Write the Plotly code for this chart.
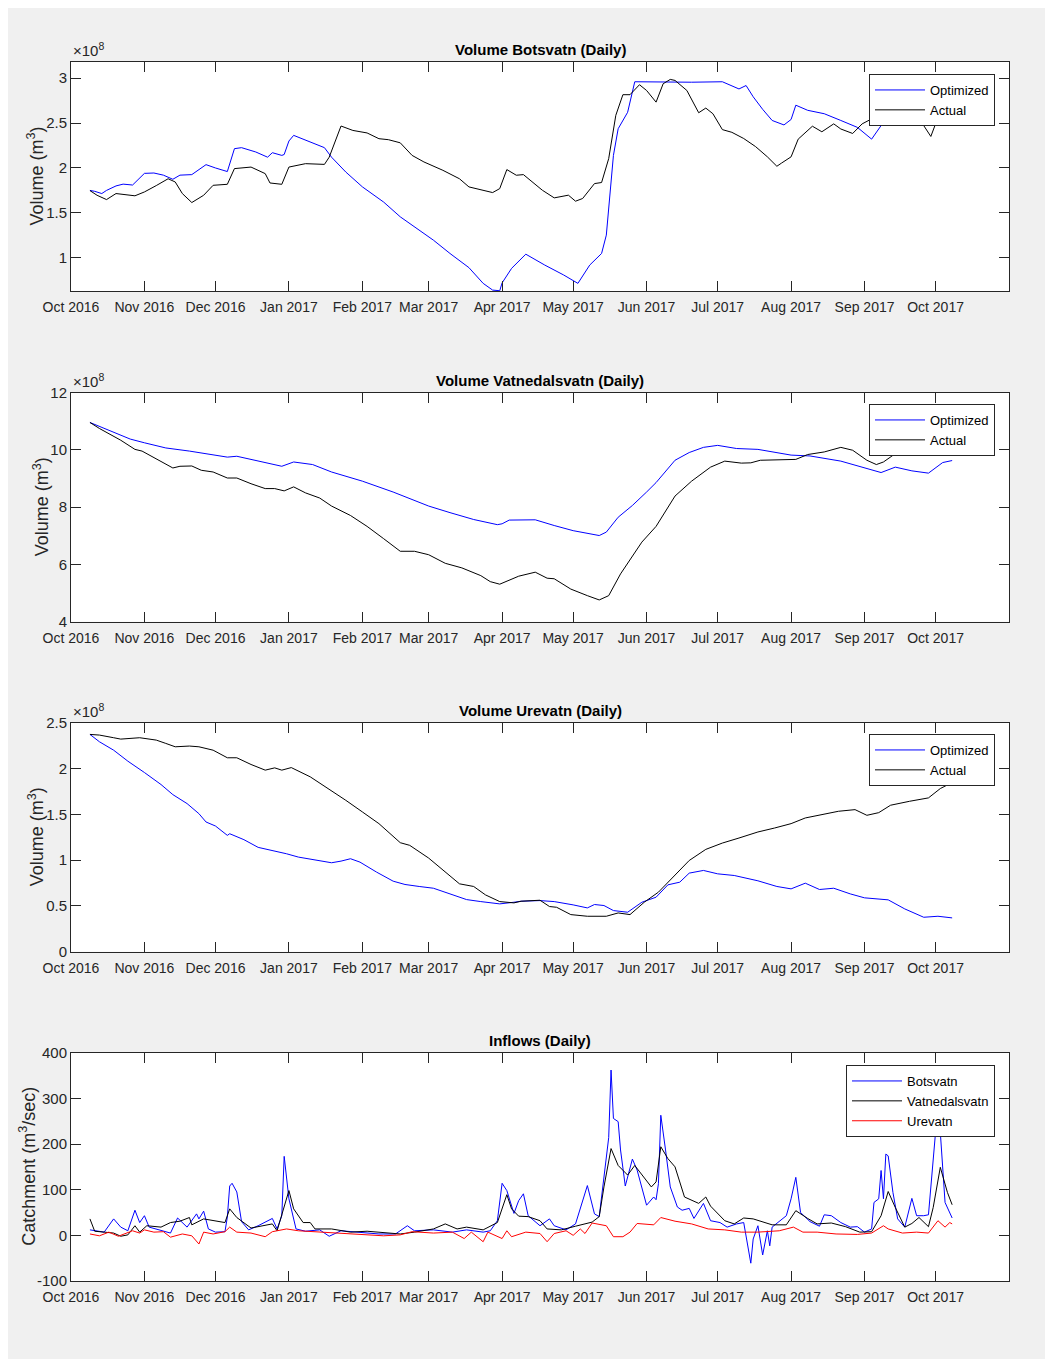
import plotly.graph_objects as go

# ---------------- tick labels ----------------
month_ticks = ["2016-10-01", "2016-11-01", "2016-12-01", "2017-01-01", "2017-02-01", "2017-03-01",
               "2017-04-01", "2017-05-01", "2017-06-01", "2017-07-01", "2017-08-01", "2017-09-01",
               "2017-10-01"]
month_labels = ["Oct 2016", "Nov 2016", "Dec 2016", "Jan 2017", "Feb 2017", "Mar 2017", "Apr 2017",
                "May 2017", "Jun 2017", "Jul 2017", "Aug 2017", "Sep 2017", "Oct 2017"]
inflow_ticks = [-100, 0, 100, 200, 300, 400]
inflow_tick_labels = ["-100", "0", "100", "200", "300", "400"]

# ---------------- Volume Botsvatn (x 1e8 m3) ----------------
bots_opt_dates = ["2016-10-09", "2016-10-11", "2016-10-14", "2016-10-16", "2016-10-20", "2016-10-23",
                  "2016-10-27", "2016-11-01", "2016-11-05", "2016-11-09", "2016-11-13", "2016-11-16",
                  "2016-11-21", "2016-11-27", "2016-12-01", "2016-12-06", "2016-12-09", "2016-12-12",
                  "2016-12-18", "2016-12-23", "2016-12-25", "2016-12-29", "2016-12-30", "2017-01-01",
                  "2017-01-03", "2017-01-08", "2017-01-16", "2017-01-19", "2017-01-25", "2017-02-01",
                  "2017-02-10", "2017-02-17", "2017-02-23", "2017-03-03", "2017-03-10", "2017-03-18",
                  "2017-03-24", "2017-03-28", "2017-03-31", "2017-04-01", "2017-04-05", "2017-04-11",
                  "2017-04-19", "2017-04-27", "2017-05-03", "2017-05-08", "2017-05-13", "2017-05-15",
                  "2017-05-18", "2017-05-20", "2017-05-24", "2017-05-27", "2017-06-20", "2017-07-03",
                  "2017-07-10", "2017-07-13", "2017-07-16", "2017-07-20", "2017-07-24", "2017-07-29",
                  "2017-08-01", "2017-08-03", "2017-08-08", "2017-08-15", "2017-08-22", "2017-08-29",
                  "2017-09-04", "2017-09-08", "2017-09-12", "2017-09-16", "2017-09-20", "2017-10-08"]
bots_opt_vol = [1.75, 1.74, 1.715, 1.75, 1.80, 1.82,
                1.81, 1.94, 1.944, 1.92, 1.874, 1.92,
                1.926, 2.037, 2.00, 1.96, 2.215, 2.226,
                2.178, 2.12, 2.17, 2.14, 2.15, 2.30,
                2.363, 2.307, 2.226, 2.12, 1.955, 1.79,
                1.62, 1.456, 1.344, 1.196, 1.048, 0.89,
                0.715, 0.64, 0.633, 0.72, 0.882, 1.04,
                0.919, 0.808, 0.715, 0.919, 1.048, 1.252,
                2.14, 2.437, 2.62, 2.96, 2.955, 2.96,
                2.88, 2.918, 2.793, 2.653, 2.529, 2.479,
                2.54, 2.699, 2.642, 2.604, 2.529, 2.452,
                2.321, 2.472, 2.70, 2.90, 2.96, 2.96]

bots_act_dates = ["2016-10-09", "2016-10-12", "2016-10-16", "2016-10-20", "2016-10-28", "2016-11-01",
                  "2016-11-06", "2016-11-11", "2016-11-14", "2016-11-17", "2016-11-21", "2016-11-26",
                  "2016-11-30", "2016-12-06", "2016-12-09", "2016-12-16", "2016-12-22", "2016-12-24",
                  "2016-12-29", "2017-01-01", "2017-01-08", "2017-01-16", "2017-01-18", "2017-01-23",
                  "2017-01-28", "2017-02-03", "2017-02-08", "2017-02-12", "2017-02-17", "2017-02-22",
                  "2017-02-27", "2017-03-07", "2017-03-14", "2017-03-18", "2017-03-28", "2017-03-31",
                  "2017-04-03", "2017-04-07", "2017-04-10", "2017-04-18", "2017-04-23", "2017-04-29",
                  "2017-05-02", "2017-05-05", "2017-05-10", "2017-05-13", "2017-05-16", "2017-05-19",
                  "2017-05-22", "2017-05-25", "2017-05-29", "2017-06-01", "2017-06-05", "2017-06-08",
                  "2017-06-11", "2017-06-13", "2017-06-18", "2017-06-23", "2017-06-26", "2017-06-29",
                  "2017-07-03", "2017-07-07", "2017-07-12", "2017-07-17", "2017-07-22", "2017-07-26",
                  "2017-07-28", "2017-08-01", "2017-08-04", "2017-08-10", "2017-08-14", "2017-08-19",
                  "2017-08-22", "2017-08-27", "2017-08-31", "2017-09-05", "2017-09-12", "2017-09-20",
                  "2017-09-26", "2017-09-29", "2017-10-01", "2017-10-04", "2017-10-08"]
bots_act_vol = [1.748, 1.696, 1.648, 1.715, 1.69, 1.733,
                1.804, 1.88, 1.844, 1.715, 1.615, 1.696,
                1.807, 1.818, 1.993, 2.01, 1.937, 1.833,
                1.818, 2.01, 2.048, 2.04, 2.12, 2.467,
                2.418, 2.39, 2.326, 2.315, 2.28, 2.14,
                2.067, 1.974, 1.88, 1.789, 1.726, 1.77,
                1.982, 1.919, 1.926, 1.752, 1.667, 1.697,
                1.63, 1.66, 1.826, 1.838, 2.104, 2.586,
                2.816, 2.816, 2.927, 2.863, 2.733, 2.938,
                2.986, 2.975, 2.863, 2.615, 2.667, 2.604,
                2.427, 2.397, 2.328, 2.238, 2.124, 2.019,
                2.055, 2.124, 2.321, 2.465, 2.403, 2.491,
                2.434, 2.384, 2.491, 2.56, 2.60, 2.58,
                2.472, 2.351, 2.491, 2.60, 2.62]

# ---------------- Volume Vatnedalsvatn (x 1e8 m3) ----------------
vatn_opt_dates = ["2016-10-09", "2016-10-18", "2016-10-26", "2016-11-01", "2016-11-10", "2016-11-20",
                  "2016-11-30", "2016-12-06", "2016-12-10", "2016-12-19", "2016-12-25", "2016-12-29",
                  "2017-01-03", "2017-01-11", "2017-01-19", "2017-02-01", "2017-02-14", "2017-03-01",
                  "2017-03-10", "2017-03-20", "2017-03-30", "2017-04-01", "2017-04-04", "2017-04-09",
                  "2017-04-15", "2017-04-23", "2017-05-01", "2017-05-12", "2017-05-15", "2017-05-20",
                  "2017-05-26", "2017-06-01", "2017-06-05", "2017-06-13", "2017-06-19", "2017-06-25",
                  "2017-07-01", "2017-07-09", "2017-07-18", "2017-08-01", "2017-08-09", "2017-08-22",
                  "2017-08-31", "2017-09-08", "2017-09-14", "2017-09-21", "2017-09-28", "2017-10-04",
                  "2017-10-08"]
vatn_opt_vol = [10.96, 10.66, 10.38, 10.25, 10.07, 9.96,
                9.84, 9.75, 9.78, 9.62, 9.50, 9.43,
                9.58, 9.49, 9.23, 8.91, 8.53, 8.04,
                7.81, 7.57, 7.39, 7.42, 7.55, 7.56,
                7.56, 7.36, 7.18, 7.01, 7.13, 7.65,
                8.06, 8.53, 8.86, 9.64, 9.91, 10.09,
                10.16, 10.05, 10.02, 9.82, 9.79, 9.61,
                9.41, 9.21, 9.40, 9.27, 9.19, 9.56,
                9.63]

vatn_act_dates = ["2016-10-09", "2016-10-13", "2016-10-22", "2016-10-28", "2016-10-31", "2016-11-06",
                  "2016-11-13", "2016-11-16", "2016-11-21", "2016-11-25", "2016-11-30", "2016-12-06",
                  "2016-12-10", "2016-12-16", "2016-12-22", "2016-12-26", "2016-12-30", "2017-01-03",
                  "2017-01-08", "2017-01-14", "2017-01-19", "2017-01-27", "2017-02-03", "2017-02-10",
                  "2017-02-17", "2017-02-23", "2017-03-01", "2017-03-08", "2017-03-15", "2017-03-23",
                  "2017-03-27", "2017-03-31", "2017-04-04", "2017-04-08", "2017-04-15", "2017-04-20",
                  "2017-04-23", "2017-04-30", "2017-05-07", "2017-05-12", "2017-05-16", "2017-05-21",
                  "2017-05-30", "2017-06-05", "2017-06-13", "2017-06-20", "2017-06-28", "2017-07-04",
                  "2017-07-11", "2017-07-15", "2017-07-19", "2017-07-26", "2017-08-03", "2017-08-08",
                  "2017-08-15", "2017-08-22", "2017-08-27", "2017-09-02", "2017-09-06", "2017-09-09",
                  "2017-09-14", "2017-09-23", "2017-09-30", "2017-10-08"]
vatn_act_vol = [10.96, 10.75, 10.34, 10.02, 9.96, 9.68,
                9.37, 9.43, 9.44, 9.29, 9.23, 9.02,
                9.02, 8.82, 8.65, 8.65, 8.57, 8.71,
                8.50, 8.32, 8.04, 7.71, 7.33, 6.90,
                6.46, 6.46, 6.34, 6.04, 5.88, 5.61,
                5.40, 5.31, 5.44, 5.59, 5.73, 5.52,
                5.50, 5.14, 4.91, 4.76, 4.91, 5.67,
                6.78, 7.33, 8.39, 8.91, 9.40, 9.61,
                9.54, 9.55, 9.64, 9.66, 9.67, 9.84,
                9.93, 10.09, 9.99, 9.64, 9.49, 9.58,
                9.87, 9.87, 9.92, 10.0]

# ---------------- Volume Urevatn (x 1e8 m3) ----------------
ure_opt_dates = ["2016-10-09", "2016-10-13", "2016-10-19", "2016-10-25", "2016-11-01", "2016-11-08",
                 "2016-11-13", "2016-11-19", "2016-11-24", "2016-11-27", "2016-12-01", "2016-12-06",
                 "2016-12-07", "2016-12-13", "2016-12-19", "2016-12-25", "2016-12-31", "2017-01-05",
                 "2017-01-12", "2017-01-19", "2017-01-23", "2017-01-27", "2017-01-31", "2017-02-07",
                 "2017-02-14", "2017-02-19", "2017-02-25", "2017-03-03", "2017-03-10", "2017-03-17",
                 "2017-03-23", "2017-03-31", "2017-04-06", "2017-04-09", "2017-04-17", "2017-04-23",
                 "2017-05-01", "2017-05-07", "2017-05-10", "2017-05-14", "2017-05-18", "2017-05-24",
                 "2017-05-30", "2017-06-05", "2017-06-10", "2017-06-15", "2017-06-19", "2017-06-25",
                 "2017-07-01", "2017-07-08", "2017-07-18", "2017-07-26", "2017-08-01", "2017-08-07",
                 "2017-08-13", "2017-08-19", "2017-08-26", "2017-09-01", "2017-09-11", "2017-09-18",
                 "2017-09-26", "2017-10-02", "2017-10-08"]
ure_opt_vol = [2.372, 2.292, 2.20, 2.08, 1.956, 1.825,
               1.715, 1.617, 1.507, 1.416, 1.372, 1.27,
               1.288, 1.223, 1.139, 1.106, 1.069, 1.033,
               1.004, 0.971, 0.989, 1.015, 0.978, 0.869,
               0.77, 0.734, 0.712, 0.693, 0.631, 0.569,
               0.547, 0.522, 0.54, 0.551, 0.558, 0.547,
               0.511, 0.478, 0.515, 0.504, 0.449, 0.431,
               0.54, 0.595, 0.73, 0.759, 0.858, 0.887,
               0.85, 0.832, 0.774, 0.712, 0.686, 0.748,
               0.679, 0.693, 0.631, 0.588, 0.566, 0.467,
               0.376, 0.387, 0.369]

ure_act_dates = ["2016-10-09", "2016-10-13", "2016-10-19", "2016-10-22", "2016-10-30", "2016-11-06",
                 "2016-11-10", "2016-11-14", "2016-11-20", "2016-11-24", "2016-11-30", "2016-12-06",
                 "2016-12-10", "2016-12-16", "2016-12-22", "2016-12-26", "2016-12-29", "2017-01-02",
                 "2017-01-10", "2017-01-16", "2017-01-25", "2017-02-01", "2017-02-08", "2017-02-17",
                 "2017-02-21", "2017-03-01", "2017-03-08", "2017-03-14", "2017-03-20", "2017-03-25",
                 "2017-03-31", "2017-04-06", "2017-04-09", "2017-04-17", "2017-04-21", "2017-04-24",
                 "2017-04-30", "2017-05-07", "2017-05-15", "2017-05-20", "2017-05-25", "2017-05-31",
                 "2017-06-06", "2017-06-12", "2017-06-19", "2017-06-26", "2017-07-03", "2017-07-10",
                 "2017-07-18", "2017-07-25", "2017-08-01", "2017-08-07", "2017-08-15", "2017-08-21",
                 "2017-08-28", "2017-09-02", "2017-09-07", "2017-09-12", "2017-09-20", "2017-09-28",
                 "2017-10-03", "2017-10-08"]
ure_act_vol = [2.372, 2.365, 2.336, 2.321, 2.336, 2.31,
               2.274, 2.237, 2.245, 2.237, 2.20, 2.117,
               2.117, 2.044, 1.982, 2.007, 1.982, 2.01,
               1.909, 1.81, 1.653, 1.526, 1.398, 1.19,
               1.161, 1.022, 0.869, 0.741, 0.712, 0.62,
               0.547, 0.533, 0.551, 0.562, 0.493, 0.485,
               0.405, 0.387, 0.387, 0.423, 0.405, 0.54,
               0.65, 0.814, 0.996, 1.117, 1.186, 1.241,
               1.307, 1.35, 1.398, 1.46, 1.50, 1.533,
               1.551, 1.489, 1.518, 1.599, 1.642, 1.679,
               1.781, 1.847]

# ---------------- Inflows (m3/sec) ----------------
inf_bots_dates = ["2016-10-09", "2016-10-12", "2016-10-15", "2016-10-19", "2016-10-22", "2016-10-25",
                  "2016-10-28", "2016-10-30", "2016-11-01", "2016-11-03", "2016-11-08", "2016-11-12",
                  "2016-11-15", "2016-11-19", "2016-11-23", "2016-11-24", "2016-11-26", "2016-11-28",
                  "2016-12-01", "2016-12-05", "2016-12-06", "2016-12-07", "2016-12-08", "2016-12-10",
                  "2016-12-12", "2016-12-15", "2016-12-19", "2016-12-25", "2016-12-27", "2016-12-29",
                  "2016-12-30", "2017-01-01", "2017-01-04", "2017-01-08", "2017-01-14", "2017-01-18",
                  "2017-01-23", "2017-01-31", "2017-02-08", "2017-02-15", "2017-02-20", "2017-02-23",
                  "2017-03-03", "2017-03-11", "2017-03-17", "2017-03-24", "2017-03-27", "2017-03-30",
                  "2017-04-01", "2017-04-03", "2017-04-06", "2017-04-08", "2017-04-10", "2017-04-12",
                  "2017-04-17", "2017-04-21", "2017-04-23", "2017-04-28", "2017-05-02", "2017-05-07",
                  "2017-05-10", "2017-05-12", "2017-05-14", "2017-05-16", "2017-05-17", "2017-05-18",
                  "2017-05-20", "2017-05-21", "2017-05-23", "2017-05-26", "2017-05-28", "2017-06-01",
                  "2017-06-04", "2017-06-05", "2017-06-06", "2017-06-07", "2017-06-09", "2017-06-11",
                  "2017-06-14", "2017-06-16", "2017-06-19", "2017-06-21", "2017-06-25", "2017-06-28",
                  "2017-07-02", "2017-07-05", "2017-07-09", "2017-07-12", "2017-07-15", "2017-07-16",
                  "2017-07-18", "2017-07-20", "2017-07-22", "2017-07-23", "2017-07-24", "2017-07-28",
                  "2017-07-30", "2017-08-01", "2017-08-03", "2017-08-05", "2017-08-09", "2017-08-13",
                  "2017-08-15", "2017-08-18", "2017-08-22", "2017-08-26", "2017-08-29", "2017-09-01",
                  "2017-09-04", "2017-09-05", "2017-09-07", "2017-09-08", "2017-09-09", "2017-09-10",
                  "2017-09-11", "2017-09-13", "2017-09-15", "2017-09-18", "2017-09-21", "2017-09-23",
                  "2017-09-26", "2017-09-28", "2017-10-01", "2017-10-02", "2017-10-03", "2017-10-05",
                  "2017-10-08"]
inf_bots = [12, 9, 7, 36, 18, 10,
            55, 28, 43, 18, 10, 5,
            38, 18, 47, 36, 53, 14,
            7, 8, 40, 108, 114, 95,
            30, 12, 21, 37, 14, 43,
            173, 80, 14, 9, 12, -2,
            10, 7, 3, 3, 21, 10,
            12, 7, 12, 7, 10, 32,
            114, 98, 48, 76, 91, 43,
            21, 36, 21, 12, 25, 109,
            47, 41, 127, 214, 362, 256,
            249, 187, 108, 167, 143, 66,
            84, 78, 113, 263, 187, 106,
            62, 55, 59, 37, 70, 32,
            28, 18, 25, 28, -61, -8,
            21, -43, 10, -23, 18, 36,
            43, 80, 127, 50, 30, 20,
            45, 43, 28, 18, 19, 7,
            14, 72, 80, 142, 80, 178,
            174, 94, 36, 18, 81, 43,
            43, 45, 226, 250, 226, 72,
            38]

inf_vatn_dates = ["2016-10-09", "2016-10-11", "2016-10-15", "2016-10-19", "2016-10-22", "2016-10-25",
                  "2016-10-28", "2016-10-30", "2016-11-02", "2016-11-08", "2016-11-12", "2016-11-16",
                  "2016-11-20", "2016-11-21", "2016-11-26", "2016-11-30", "2016-12-05", "2016-12-07",
                  "2016-12-10", "2016-12-16", "2016-12-22", "2016-12-25", "2016-12-27", "2017-01-01",
                  "2017-01-03", "2017-01-07", "2017-01-10", "2017-01-12", "2017-01-19", "2017-01-27",
                  "2017-02-03", "2017-02-11", "2017-02-17", "2017-02-23", "2017-03-03", "2017-03-08",
                  "2017-03-13", "2017-03-17", "2017-03-24", "2017-03-30", "2017-04-03", "2017-04-05",
                  "2017-04-08", "2017-04-12", "2017-04-17", "2017-04-20", "2017-04-26", "2017-05-02",
                  "2017-05-09", "2017-05-12", "2017-05-14", "2017-05-17", "2017-05-20", "2017-05-24",
                  "2017-05-27", "2017-06-03", "2017-06-05", "2017-06-07", "2017-06-10", "2017-06-13",
                  "2017-06-17", "2017-06-23", "2017-06-26", "2017-06-28", "2017-07-04", "2017-07-08",
                  "2017-07-12", "2017-07-16", "2017-07-24", "2017-07-30", "2017-08-03", "2017-08-08",
                  "2017-08-12", "2017-08-18", "2017-08-24", "2017-08-30", "2017-09-04", "2017-09-08",
                  "2017-09-11", "2017-09-14", "2017-09-18", "2017-09-21", "2017-09-24", "2017-09-28",
                  "2017-09-30", "2017-10-03", "2017-10-06", "2017-10-08"]
inf_vatn = [36, 9, 7, 5, -2, 1,
            21, 7, 21, 18, 28, 31,
            39, 23, 36, 32, 28, 58,
            39, 16, 21, 25, 10, 98,
            58, 28, 28, 14, 14, 7,
            9, 5, 3, 7, 14, 25,
            14, 18, 12, 28, 89, 58,
            42, 41, 32, 14, 12, 20,
            29, 41, 106, 190, 153, 132,
            153, 106, 117, 194, 168, 150,
            84, 70, 84, 64, 32, 25,
            38, 36, 23, 23, 54, 37,
            25, 27, 19, 7, 8, 43,
            96, 61, 18, 26, 39, 19,
            61, 149, 94, 67]

inf_ure_dates = ["2016-10-09", "2016-10-13", "2016-10-17", "2016-10-21", "2016-10-27", "2016-10-30",
                 "2016-11-01", "2016-11-05", "2016-11-09", "2016-11-12", "2016-11-17", "2016-11-21",
                 "2016-11-24", "2016-11-26", "2016-11-30", "2016-12-05", "2016-12-07", "2016-12-10",
                 "2016-12-16", "2016-12-22", "2016-12-25", "2016-12-31", "2017-01-05", "2017-01-14",
                 "2017-01-22", "2017-01-31", "2017-02-10", "2017-02-17", "2017-02-22", "2017-03-03",
                 "2017-03-11", "2017-03-16", "2017-03-19", "2017-03-24", "2017-03-26", "2017-04-01",
                 "2017-04-03", "2017-04-05", "2017-04-11", "2017-04-17", "2017-04-20", "2017-04-23",
                 "2017-04-28", "2017-05-01", "2017-05-04", "2017-05-06", "2017-05-09", "2017-05-15",
                 "2017-05-18", "2017-05-22", "2017-05-25", "2017-05-28", "2017-06-04", "2017-06-07",
                 "2017-06-13", "2017-06-20", "2017-06-27", "2017-07-04", "2017-07-11", "2017-07-18",
                 "2017-07-27", "2017-08-02", "2017-08-06", "2017-08-12", "2017-08-20", "2017-08-29",
                 "2017-09-04", "2017-09-09", "2017-09-11", "2017-09-17", "2017-09-23", "2017-09-28",
                 "2017-10-02", "2017-10-05", "2017-10-07", "2017-10-08"]
inf_ure = [3, -1, 7, -2, 10, 5,
           12, 7, 8, -4, 3, -1,
           -19, 7, 3, 8, 18, 7,
           5, -3, 8, 14, 10, 7,
           5, 1, -1, 1, 8, 5,
           7, -7, 7, -14, 7, -7,
           10, -3, 7, 4, -14, 4,
           10, 0, 14, 4, 27, 21,
           -3, -3, 7, 26, 23, 39,
           31, 25, 14, 12, 7, 7,
           10, 18, 7, 7, 3, 2,
           5, 21, 14, 5, 7, 5,
           32, 18, 28, 25]

# ---------------- styling ----------------
FONT = "Liberation Sans, Arial, Helvetica, sans-serif"
AX = "#262626"
BLUE, BLACK, RED = "#0000ff", "#000000", "#ff0000"

# The page places the figure 8 px from the top-left corner.
OFF = 8
PAGE_W, PAGE_H = 1053, 1359
W, H = PAGE_W - OFF, PAGE_H - OFF
PLOT_L, PLOT_R, PLOT_T, PLOT_B = 71, 1009, 62, 1281   # page pixels
ML, MR, MT, MB = PLOT_L - OFF, PAGE_W - PLOT_R, PLOT_T - OFF, PAGE_H - PLOT_B
PW, PH = PLOT_R - PLOT_L, PLOT_B - PLOT_T


def py(q):  # page pixel from top -> paper y
    return 1 - (q - PLOT_T) / PH


def px(p):  # page pixel from left -> paper x
    return (p - PLOT_L) / PW


def clamp(v):
    return min(1.0, max(0.0, v))


panel_tops = [62, 392.7, 722.7, 1052.7]
panel_h = 229
domains = [[clamp(py(t + panel_h)), clamp(py(t))] for t in panel_tops]

fig = go.Figure()

panels = [
    [(bots_opt_dates, bots_opt_vol, "Optimized", BLUE), (bots_act_dates, bots_act_vol, "Actual", BLACK)],
    [(vatn_opt_dates, vatn_opt_vol, "Optimized", BLUE), (vatn_act_dates, vatn_act_vol, "Actual", BLACK)],
    [(ure_opt_dates, ure_opt_vol, "Optimized", BLUE), (ure_act_dates, ure_act_vol, "Actual", BLACK)],
    [(inf_bots_dates, inf_bots, "Botsvatn", BLUE), (inf_vatn_dates, inf_vatn, "Vatnedalsvatn", BLACK),
     (inf_ure_dates, inf_ure, "Urevatn", RED)],
]
legend_names = ["legend", "legend2", "legend3", "legend4"]

for i, series in enumerate(panels):
    sfx = "" if i == 0 else str(i + 1)
    for d, v, name, col in series:
        fig.add_trace(go.Scatter(x=d, y=v, mode="lines", name=name,
                                 line=dict(color=col, width=1),
                                 xaxis="x" + sfx, yaxis="y" + sfx,
                                 legend=legend_names[i]))

y_ranges = [[0.63, 3.18], [4, 12], [0, 2.5], [-100, 400]]
y_dticks = [0.5, 2, 0.5, 100]
y_tick0 = [1, 4, 0, -100]

layout = dict(
    width=W, height=H,
    margin=dict(l=ML, r=MR, t=MT, b=MB),
    paper_bgcolor="#f0f0f0", plot_bgcolor="#ffffff",
    font=dict(family=FONT, color=AX, size=14),
    showlegend=True,
)

for i in range(4):
    sfx = "" if i == 0 else str(i + 1)
    layout["xaxis" + sfx] = dict(
        type="date", range=["2016-10-01", "2017-11-01"],
        tickmode="array", tickvals=month_ticks, ticktext=month_labels, tickangle=0,
        ticks="inside", ticklen=10, tickwidth=1, tickcolor=AX, ticklabelstandoff=3,
        showline=True, linecolor=AX, linewidth=1, mirror="ticks",
        showgrid=False, zeroline=False, anchor="y" + sfx,
        tickfont=dict(family=FONT, size=14, color=AX), domain=[0, 1],
    )
    yax = dict(
        range=y_ranges[i], tick0=y_tick0[i], dtick=y_dticks[i],
        ticks="inside", ticklen=10, tickwidth=1, tickcolor=AX,
        showline=True, linecolor=AX, linewidth=1, mirror="ticks",
        showgrid=False, zeroline=False, anchor="x" + sfx,
        tickfont=dict(family=FONT, size=15, color=AX), domain=domains[i],
    )
    if i == 3:
        yax.update(tickmode="array", tickvals=inflow_ticks, ticktext=inflow_tick_labels)
    layout["yaxis" + sfx] = yax

legend_tops = [74, 404, 734, 1065]
for i in range(4):
    layout[legend_names[i]] = dict(
        x=px(995), xanchor="right", y=py(legend_tops[i]), yanchor="top",
        bgcolor="#ffffff", bordercolor=AX, borderwidth=1,
        font=dict(family=FONT, size=13, color="#000000"),
        tracegroupgap=0, itemwidth=50,
    )

fig.update_layout(**layout)

titles = ["Volume Botsvatn (Daily)", "Volume Vatnedalsvatn (Daily)", "Volume Urevatn (Daily)",
          "Inflows (Daily)"]
ytitles = ["Volume (m<sup>3</sup>)", "Volume (m<sup>3</sup>)", "Volume (m<sup>3</sup>)",
           "Catchment (m<sup>3</sup>/sec)"]
ytitle_x = [36, 41, 36, 28]
annotations = []
for i in range(4):
    top = domains[i][1]
    mid = (domains[i][0] + domains[i][1]) / 2
    annotations.append(dict(text="<b>" + titles[i] + "</b>", x=0.5, y=top, xref="paper", yref="paper",
                            xanchor="center", yanchor="bottom", yshift=2, showarrow=False,
                            font=dict(family=FONT, size=15, color="#000000")))
    annotations.append(dict(text=ytitles[i], x=px(ytitle_x[i]), y=mid, xref="paper", yref="paper",
                            xanchor="center", yanchor="middle", textangle=-90, showarrow=False,
                            font=dict(family=FONT, size=18, color=AX)))
    if i < 3:
        annotations.append(dict(text="\u00d710<sup>8</sup>", x=0, y=top, xref="paper", yref="paper",
                                xanchor="left", yanchor="bottom", yshift=1, showarrow=False,
                                font=dict(family=FONT, size=15, color=AX)))
fig.update_layout(annotations=annotations)

fig.write_html("out.html")
